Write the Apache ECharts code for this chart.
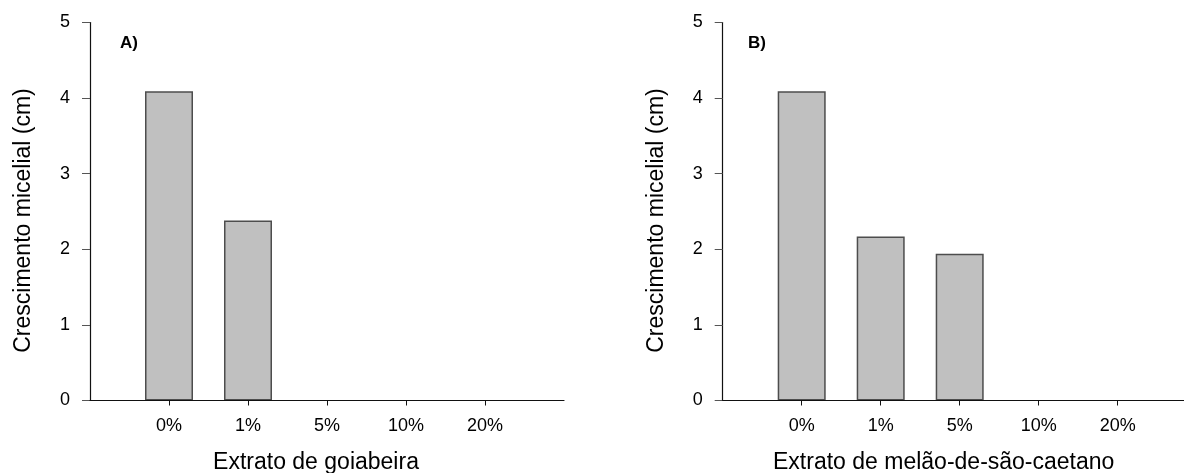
<!DOCTYPE html>
<html>
<head>
<meta charset="utf-8">
<script src="https://cdn.jsdelivr.net/npm/echarts@6/dist/echarts.min.js"></script>
<style>
  html, body { margin: 0; padding: 0; background: #fff; }
  #main { width: 1184px; height: 473px; }
</style>
</head>
<body>
<div id="main"></div>
<script>
// categorias (concentração do extrato)
const categorias = ['0%', '1%', '5%', '10%', '20%'];
// crescimento micelial (cm)
const goiabeira = [4.09, 2.38, 0, 0, 0];
const melao = [4.09, 2.17, 1.94, 0, 0];
const yTicks = [0, 1, 2, 3, 4, 5];

const font = '"Liberation Sans", Arial, sans-serif';
const idx = categorias.map((c, i) => i);

function eixoX(i, nome, pad) {
  return {
    type: 'value', gridIndex: i, min: -1, max: 5,
    name: nome, nameLocation: 'middle', nameGap: 51,
    nameTextStyle: { fontFamily: font, fontSize: 23, color: '#000', padding: pad },
    axisLine: { onZero: false, lineStyle: { color: '#111', width: 1.2 } },
    axisTick: { show: true, customValues: idx, length: 5, lineStyle: { color: '#111' } },
    axisLabel: {
      customValues: idx, margin: 17,
      fontFamily: font, fontSize: 18, color: '#000',
      formatter: v => categorias[v]
    },
    splitLine: { show: false },
    z: 5
  };
}

function eixoY(i) {
  return {
    type: 'value', gridIndex: i, min: yTicks[0], max: yTicks[yTicks.length - 1], interval: 1,
    name: 'Crescimento micelial (cm)', nameLocation: 'middle', nameGap: 55,
    nameTextStyle: { fontFamily: font, fontSize: 23, color: '#000', padding: [0, 18, 0, 0] },
    axisLine: { show: true, onZero: false, lineStyle: { color: '#111', width: 1.2 } },
    axisTick: { show: true, inside: false, length: 8, lineStyle: { color: '#555' } },
    axisLabel: { margin: 20, fontFamily: font, fontSize: 18, color: '#000' },
    splitLine: { show: false }
  };
}

function barras(i, dados) {
  return {
    type: 'bar', xAxisIndex: i, yAxisIndex: i,
    // barras de altura zero sem contorno
    data: dados.map((v, k) => v > 0 ? [k, v] : { value: [k, v], itemStyle: { borderWidth: 0 } }),
    barWidth: 48,
    itemStyle: { color: '#c0c0c0', borderColor: '#4d4d4d', borderWidth: 1.5 },
    silent: true,
    z: 2
  };
}

const myChart = echarts.init(document.getElementById('main'));
const option = {
  backgroundColor: '#fff',
  animation: false,
  title: [
    { text: 'A)', left: 120, top: 35, padding: 0,
      textStyle: { fontFamily: font, fontSize: 17, fontWeight: 'bold', color: '#000' } },
    { text: 'B)', left: 748, top: 35, padding: 0,
      textStyle: { fontFamily: font, fontSize: 17, fontWeight: 'bold', color: '#000' } }
  ],
  grid: [
    { left: 90, right: 620, top: 22.5, bottom: 72.5, outerBoundsMode: 'none', containLabel: false },
    { left: 722.7, right: -12.7, top: 22.5, bottom: 72.5, outerBoundsMode: 'none', containLabel: false }
  ],
  xAxis: [
    eixoX(0, 'Extrato de goiabeira', [0, 22, 0, 0]),
    eixoX(1, 'Extrato de melão-de-são-caetano', [0, 32, 0, 0])
  ],
  yAxis: [eixoY(0), eixoY(1)],
  series: [barras(0, goiabeira), barras(1, melao)]
};
myChart.setOption(option);
</script>
</body>
</html>
